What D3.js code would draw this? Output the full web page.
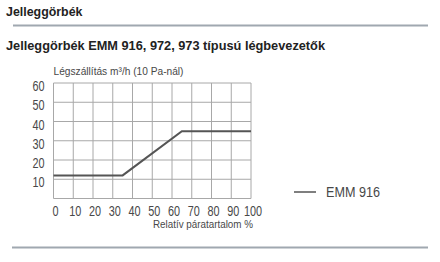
<!DOCTYPE html>
<html><head><meta charset="utf-8">
<script src="https://cdn.jsdelivr.net/npm/d3@7"></script>
<style>
body{margin:0;background:#fff;}
svg{display:block;}
</style></head>
<body>
<svg id="c" width="440" height="262"></svg>
<script>
const xValues = [0, 35, 65, 100];
const yValues = [12, 12, 35, 35];
const xTicks = [0,10,20,30,40,50,60,70,80,90,100];
const yTicks = [10,20,30,40,50,60];
const seriesName = "EMM 916";
const header = "Jelleggörbék";
const title = "Jelleggörbék EMM 916, 972, 973 típusú légbevezetők";
const yTitle = "Légszállítás m³/h (10 Pa-nál)";
const xTitle = "Relatív páratartalom %";

const svg = d3.select("#c");
const sans = "'Liberation Sans',Arial,sans-serif";
const SX = 0.75;
const txtCol = "#484848";

svg.append("text").attr("x",6).attr("y",16).text(header)
  .attr("font-family",sans).attr("font-weight","bold").attr("font-size",12.4).attr("fill","#222");
svg.append("line").attr("x1",13).attr("x2",428).attr("y1",25.5).attr("y2",25.5)
  .attr("stroke","#a0a8b0").attr("stroke-width",2);
svg.append("text").attr("x",6).attr("y",50).text(title)
  .attr("font-family",sans).attr("font-weight","bold").attr("font-size",12.8).attr("fill","#222")
  .attr("textLength",319).attr("lengthAdjust","spacingAndGlyphs");
svg.append("line").attr("x1",12).attr("x2",428).attr("y1",247.5).attr("y2",247.5)
  .attr("stroke","#a0a8b0").attr("stroke-width",2);

const L=53.5, R=251, T=83, B=198.5;
const x = d3.scaleLinear().domain([0,100]).range([L,R]);
const y = d3.scaleLinear().domain([0,60]).range([B,T]);

const g = svg.append("g");
g.selectAll(".vx").data(xTicks).join("line")
  .attr("x1",d=>x(d)).attr("x2",d=>x(d)).attr("y1",T).attr("y2",B)
  .attr("stroke","#a8a8a8").attr("stroke-width",1);
g.selectAll(".hy").data([0].concat(yTicks)).join("line")
  .attr("x1",L).attr("x2",R).attr("y1",d=>y(d)).attr("y2",d=>y(d))
  .attr("stroke","#a8a8a8").attr("stroke-width",1);

const xAxis = d3.axisBottom(x).tickValues(xTicks).tickSize(0).tickPadding(7);
const xg = svg.append("g").attr("transform",`translate(1.5,${B})`).call(xAxis);
xg.select(".domain").remove();
xg.selectAll("text").attr("font-family",sans).attr("font-size",14.5).attr("fill",txtCol)
  .attr("transform",`scale(${SX},1)`);

const yAxis = d3.axisLeft(y).tickValues(yTicks).tickSize(0);
const yg = svg.append("g").attr("transform",`translate(${L},3)`).call(yAxis);
yg.select(".domain").remove();
yg.selectAll("text").attr("font-family",sans).attr("font-size",14.5).attr("fill",txtCol)
  .attr("x",-9/SX).attr("transform",`scale(${SX},1)`);

svg.append("text").attr("x",L).attr("y",75).text(yTitle)
  .attr("font-family",sans).attr("font-size",10.5).attr("fill",txtCol)
  .attr("textLength",130).attr("lengthAdjust","spacingAndGlyphs");
svg.append("text").attr("x",153).attr("y",228).text(xTitle)
  .attr("font-family",sans).attr("font-size",10.5).attr("fill",txtCol)
  .attr("textLength",100).attr("lengthAdjust","spacingAndGlyphs");

const pts = xValues.map((v,i)=>[v,yValues[i]]);
svg.append("path").datum(pts)
  .attr("d", d3.line().x(d=>x(d[0])).y(d=>y(d[1])))
  .attr("fill","none").attr("stroke","#555").attr("stroke-width",2);

svg.append("line").attr("x1",294).attr("x2",316).attr("y1",192).attr("y2",192)
  .attr("stroke","#555").attr("stroke-width",1.5);
svg.append("text").attr("x",326).attr("y",196.5).text(seriesName)
  .attr("font-family",sans).attr("font-size",14).attr("fill",txtCol)
  .attr("textLength",54).attr("lengthAdjust","spacingAndGlyphs");
</script>
</body></html>
